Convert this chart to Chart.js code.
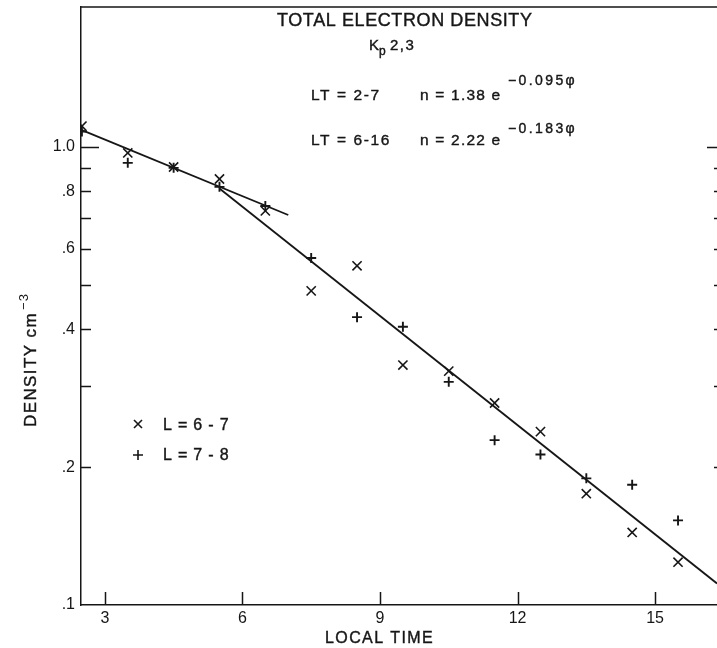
<!DOCTYPE html>
<html><head><meta charset="utf-8">
<script src="https://cdn.jsdelivr.net/npm/chart.js@4.4.0/dist/chart.umd.min.js"></script>
<style>html,body{margin:0;padding:0;background:#fff;}#wrap{width:717px;height:648px;position:relative;}</style>
</head><body><div id="wrap"><canvas id="c" width="717" height="648"></canvas></div>
<script>
// ---- data ----
const localTime = [2.5, 3.5, 4.5, 5.5, 6.5, 7.5, 8.5, 9.5, 10.5, 11.5, 12.5, 13.5, 14.5, 15.5];
const densityL67 = [1.11, 0.970, 0.904, 0.851, 0.725, 0.485, 0.550, 0.334, 0.324, 0.276, 0.239, 0.175, 0.144, 0.124];
const densityL78 = [1.08, 0.923, 0.900, 0.818, 0.743, 0.572, 0.425, 0.405, 0.307, 0.229, 0.213, 0.189, 0.183, 0.153];
const fitEarlyLT = [2.5, 7.0];
const fitEarlyN = [1.088, 0.710];
const fitLateLT = [5.5, 16.35];
const fitLateN = [0.811, 0.1114];
const xTickValues = [3, 6, 9, 12, 15];
const yTickValues = [0.1, 0.2, 0.3, 0.4, 0.5, 0.6, 0.7, 0.8, 0.9, 1.0];
const yTickLabels = ['.1', '.2', '', '.4', '', '.6', '', '.8', '', '1.0'];

const INK = '#161616';
const FONT = '"Liberation Sans", Arial, sans-serif';

function pts(xs, ys) { return xs.map((x, i) => ({ x: x, y: ys[i] })); }

function txt(ctx, s, x, y, size, ls, rot) {
  ctx.save();
  ctx.font = size + 'px ' + FONT;
  ctx.fillStyle = INK;
  ctx.strokeStyle = INK;
  ctx.lineWidth = 0.4;
  ctx.textAlign = 'left';
  ctx.textBaseline = 'alphabetic';
  if ('letterSpacing' in ctx) ctx.letterSpacing = (ls || 0) + 'px';
  if (rot) { ctx.translate(x, y); ctx.rotate(rot); ctx.fillText(s, 0, 0); ctx.strokeText(s, 0, 0); }
  else { ctx.fillText(s, x, y); ctx.strokeText(s, x, y); }
  ctx.restore();
}

const decor = {
  id: 'decor',
  afterDraw(chart) {
    const ctx = chart.ctx, a = chart.chartArea;
    const xs = chart.scales.x, ys = chart.scales.y;
    ctx.save();
    ctx.strokeStyle = INK;
    ctx.lineWidth = 1.5;
    ctx.beginPath();
    // top frame
    ctx.moveTo(a.left, a.top); ctx.lineTo(a.right, a.top);
    // inward ticks, left and right
    yTickValues.forEach(v => {
      const py = Math.round(ys.getPixelForValue(v)) + 0.5;
      if (v > 0.1) {
        const l = v === 1.0 ? 18 : 10;
        ctx.moveTo(a.left, py); ctx.lineTo(a.left + l, py);
        const r = v === 1.0 ? 10 : 3;
        ctx.moveTo(a.right, py); ctx.lineTo(a.right - r, py);
      }
    });
    // x ticks pointing up
    xTickValues.forEach(v => {
      const px = Math.round(xs.getPixelForValue(v)) + 0.5;
      ctx.moveTo(px, a.bottom); ctx.lineTo(px, a.bottom - 13);
    });
    ctx.stroke();

    // legend markers
    ctx.lineWidth = 1.6;
    ctx.beginPath();
    ctx.moveTo(134, 420); ctx.lineTo(142, 428);
    ctx.moveTo(142, 420); ctx.lineTo(134, 428);
    ctx.moveTo(138, 450); ctx.lineTo(138, 460);
    ctx.moveTo(133, 455); ctx.lineTo(143, 455);
    ctx.stroke();
    ctx.restore();

    // texts
    txt(ctx, 'TOTAL ELECTRON DENSITY', 277, 26, 18, 0.6);
    txt(ctx, 'K', 369, 50, 15, 0);
    txt(ctx, 'p', 379, 55, 12, 0);
    txt(ctx, '2,3', 390, 50, 15, 1.5);
    txt(ctx, 'LT = 2-7', 311, 100, 15.5, 1.6);
    txt(ctx, 'n = 1.38 e', 420, 100, 15.5, 1.2);
    txt(ctx, '\u22120.095\u03c6', 508, 85, 14, 2.4);
    txt(ctx, 'LT = 6-16', 311, 145, 15.5, 1.6);
    txt(ctx, 'n = 2.22 e', 420, 145, 15.5, 1.2);
    txt(ctx, '\u22120.183\u03c6', 508, 133, 14, 2.4);
    txt(ctx, 'L = 6 - 7', 163, 430, 16, 0.8);
    txt(ctx, 'L = 7 - 8', 163, 460, 16, 0.8);
    txt(ctx, 'LOCAL TIME', 325, 643, 16, 1.4);
    // y axis title, rotated, with superscript
    ctx.save();
    ctx.font = '17px ' + FONT;
    if ('letterSpacing' in ctx) ctx.letterSpacing = '1.4px';
    const w = ctx.measureText('DENSITY cm').width;
    ctx.restore();
    txt(ctx, 'DENSITY cm', 36, 427, 17, 1.4, -Math.PI / 2);
    ctx.save();
    ctx.translate(36, 427); ctx.rotate(-Math.PI / 2);
    ctx.font = '13px ' + FONT; ctx.fillStyle = INK;
    if ('letterSpacing' in ctx) ctx.letterSpacing = '1px';
    ctx.fillText('\u22123', w + 2, -8);
    ctx.restore();
  }
};

new Chart(document.getElementById('c'), {
  type: 'scatter',
  data: {
    datasets: [
      { label: 'L = 6-7', data: pts(localTime, densityL67), pointStyle: 'crossRot', pointRadius: 6.5,
        borderColor: INK, backgroundColor: INK, pointBorderWidth: 1.6, showLine: false },
      { label: 'L = 7-8', data: pts(localTime, densityL78), pointStyle: 'cross', pointRadius: 5,
        borderColor: INK, backgroundColor: INK, pointBorderWidth: 1.9, showLine: false },
      { label: 'fit LT 2-7', data: pts(fitEarlyLT, fitEarlyN), showLine: true, pointRadius: 0,
        borderColor: INK, borderWidth: 1.8 },
      { label: 'fit LT 6-16', data: pts(fitLateLT, fitLateN), showLine: true, pointRadius: 0,
        borderColor: INK, borderWidth: 1.8 }
    ]
  },
  options: {
    responsive: false,
    animation: false,
    devicePixelRatio: 1,
    layout: { autoPadding: false, padding: { top: 7, right: 0, left: 0, bottom: 0 } },
    plugins: { legend: { display: false }, tooltip: { enabled: false }, title: { display: false } },
    scales: {
      x: {
        type: 'linear', min: 2.48, max: 16.35,
        afterBuildTicks: s => { s.ticks = xTickValues.map(v => ({ value: v })); },
        afterFit: s => { s.height = 43; s.paddingLeft = 0; s.paddingRight = 0; },
        grid: { display: false, drawTicks: false },
        border: { display: true, color: INK, width: 1.5 },
        ticks: { color: INK, font: { family: FONT, size: 16 }, padding: 4, autoSkip: false, maxRotation: 0,
          callback: v => String(v) }
      },
      y: {
        type: 'logarithmic', min: 0.1, max: 2.02,
        afterBuildTicks: s => { s.ticks = yTickValues.map(v => ({ value: v })); },
        afterFit: s => { s.width = 81; s.paddingTop = 0; s.paddingBottom = 0; },
        grid: { display: false, drawTicks: false },
        border: { display: true, color: INK, width: 1.5 },
        ticks: { color: INK, font: { family: FONT, size: 16 }, padding: 6, autoSkip: false,
          callback: (v, i) => yTickLabels[i] }
      }
    }
  },
  plugins: [decor]
});
</script></body></html>
